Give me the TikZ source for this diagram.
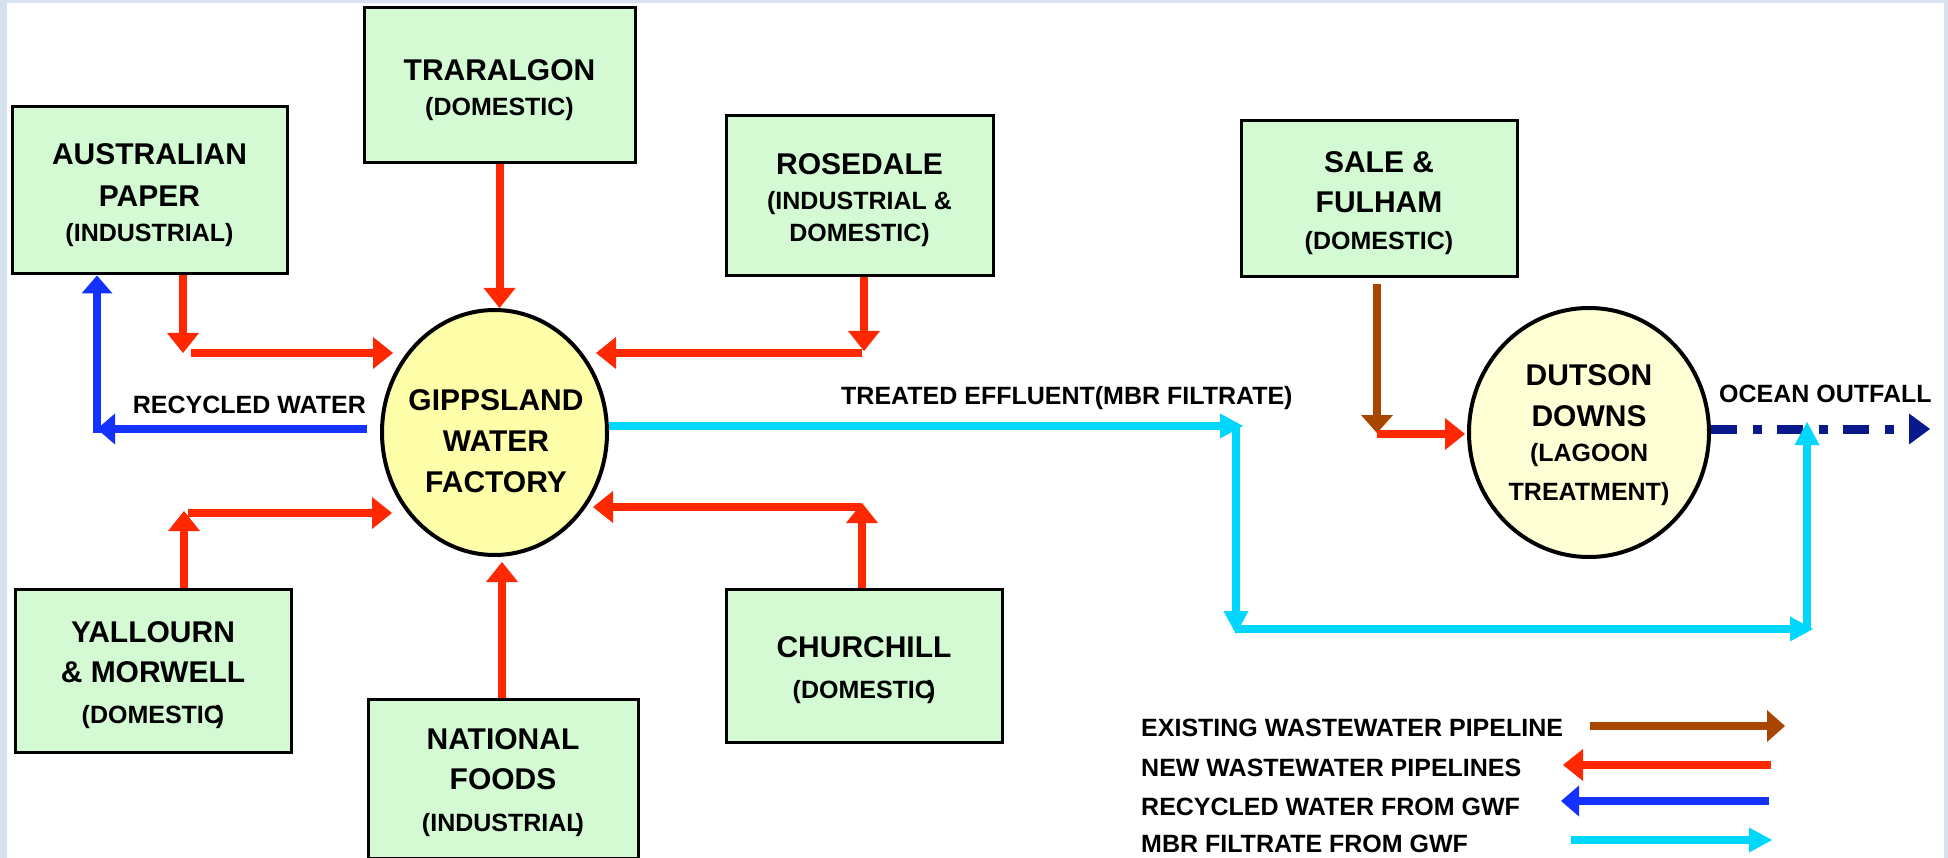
\documentclass[tikz,border=0pt]{standalone}
\usepackage{fontspec}
\setmainfont{Liberation Sans}
\usetikzlibrary{arrows.meta,shapes.geometric}
\definecolor{framecol}{RGB}{214,226,238}
\definecolor{boxgreen}{RGB}{211,250,211}
\definecolor{gwfyellow}{RGB}{255,255,170}
\definecolor{duyellow}{RGB}{255,255,213}
\definecolor{pipered}{RGB}{255,40,0}
\definecolor{pipeblue}{RGB}{20,50,255}
\definecolor{pipecyan}{RGB}{0,215,255}
\definecolor{pipebrown}{RGB}{168,70,0}
\definecolor{pipenavy}{RGB}{8,25,140}
\newcommand{\mainfs}{\fontsize{30pt}{40pt}\selectfont\bfseries}
\newcommand{\subfs}{\fontsize{25pt}{40pt}\selectfont}
\newcommand{\labfs}{\fontsize{25pt}{30pt}\selectfont\bfseries}
\newcommand{\bxstrut}{\rule{0pt}{30pt}}
\begin{document}
\begin{tikzpicture}[x=1pt,y=-1pt,
  box/.style={draw=black, line width=3pt, fill=boxgreen, rectangle, inner sep=0pt, align=center, font=\mainfs},
  plant/.style={draw=black, line width=4pt, ellipse, inner sep=0pt},
  ctext/.style={inner sep=0pt, align=center, font=\mainfs},
  lab/.style={inner sep=0pt, font=\labfs},
  pipe/.style={line width=8pt},
  redarr/.style={pipe, draw=pipered, -{Triangle[length=20pt,width=32pt,line width=0pt]}},
  bluearr/.style={pipe, draw=pipeblue, -{Triangle[length=18pt,width=31pt,line width=0pt]}},
  cyanarr/.style={pipe, draw=pipecyan, -{Triangle[length=23pt,width=25pt,line width=0pt]}},
  brownarr/.style={line width=7.5pt, draw=pipebrown, -{Triangle[length=18pt,width=32pt,line width=0pt]}},
  navyarr/.style={line width=9pt, draw=pipenavy, dash pattern=on 26pt off 16pt on 9pt off 15pt, -{Triangle[length=21pt,width=31pt,line width=0pt]}}
]
\useasboundingbox (0,0) rectangle (1948,858);
\fill[framecol] (0,0) rectangle (1948,858);
\fill[white] (7,3) rectangle (1944,858);

% source boxes
\node[box, minimum width=271pt, minimum height=155pt] (tr) at (499.5,85.5)
  {\bxstrut TRARALGON\\[-5pt]\subfs(DOMESTIC)};
\node[box, minimum width=275pt, minimum height=167pt] (ap) at (149.5,190.5)
  {\bxstrut AUSTRALIAN\\[2pt]PAPER\\[-5pt]\subfs(INDUSTRIAL)};
\node[box, minimum width=267pt, minimum height=160pt] (ro) at (859.5,196)
  {\bxstrut ROSEDALE\\[-5pt]\subfs(INDUSTRIAL \&\\[-8pt]\subfs DOMESTIC)};
\node[box, minimum width=276pt, minimum height=156pt] (sa) at (1379,199)
  {\bxstrut SALE \&\\FULHAM\\[-3pt]\subfs(DOMESTIC)};
\node[box, minimum width=276pt, minimum height=163pt] (ya) at (153,670.5)
  {\bxstrut YALLOURN\\\& MORWELL\\[1pt]\subfs(DOMESTIC\kern-6pt)};
\node[box, minimum width=270pt, minimum height=159pt] (nf) at (503,778.5)
  {\bxstrut NATIONAL\\FOODS\\[2pt]\subfs(INDUSTRIAL\kern-6pt)};
\node[box, minimum width=276pt, minimum height=153pt] (ch) at (864,665.5)
  {\bxstrut CHURCHILL\\[1pt]\subfs(DOMESTIC\kern-6pt)};

% treatment plants
\node[plant, fill=gwfyellow, minimum width=225pt, minimum height=245pt] (gwf) at (494.5,432.5) {};
\node[ctext] (gwft) at (496,437) {\bxstrut GIPPSLAND\\[1pt]WATER\\[1pt]FACTORY};
\node[plant, fill=duyellow, minimum width=240pt, minimum height=249pt] (du) at (1589,432.5) {};
\node[ctext] (dut) at (1589,431) {\bxstrut DUTSON\\[1pt]DOWNS\\[-5pt]\subfs(LAGOON\\[-1pt]\subfs TREATMENT)};

% labels
\node[lab, anchor=base east] (rwl) at (366,413) {RECYCLED WATER};
\node[lab, anchor=base west] (tel) at (841,404) {TREATED EFFLUENT(MBR FILTRATE)};
\node[lab, anchor=base west] (ool) at (1719,402) {OCEAN OUTFALL};

% corner and end points
\coordinate (apc) at (183,353);
\coordinate (apt) at (393,353);
\coordinate (rwa) at (367,429);
\coordinate (rwc) at (97,429);
\coordinate (yac) at (184,513);
\coordinate (yat) at (392,513);
\coordinate (nft) at (502,562);
\coordinate (roc) at (864,353);
\coordinate (rot) at (596,353);
\coordinate (chc) at (862,507);
\coordinate (cht) at (593,507);
\coordinate (cy1) at (1236,426);
\coordinate (cy2) at (1236,629);
\coordinate (cy3) at (1807,629);
\coordinate (cy4) at (1807,422);
\coordinate (sac) at (1377,434);
\coordinate (sat) at (1465,434);
\coordinate (oot) at (1930,429);

% new wastewater pipelines into GWF
\draw[redarr] (tr.south) -- (tr.south |- gwf.north);
\draw[redarr] (ap.south -| apc) -- (apc);
\draw[redarr] ([xshift=8pt]apc) -- (apt);
\draw[redarr] (ya.north -| yac) -- ([yshift=2pt]yac);
\draw[redarr] ([xshift=4pt]yac) -- (yat);
\draw[redarr] (nf.north -| nft) -- (nft);
\draw[redarr] (ro.south -| roc) -- ([yshift=2pt]roc);
\draw[redarr] ([xshift=-2pt]roc) -- (rot);
\draw[redarr] (ch.north -| chc) -- ([yshift=4pt]chc);
\draw[redarr] ([xshift=-1pt]chc) -- (cht);

% recycled water
\draw[bluearr] (rwa) -- (rwc);
\draw[bluearr] ([yshift=-4pt]rwc) -- (rwc |- ap.south);

% Sale & Fulham
\draw[brownarr] ([yshift=-6pt]sa.south -| sac) -- ([yshift=1pt]sac);
\draw[redarr] (sac) -- (sat);

% ocean outfall
\draw[navyarr] (du.east |- oot) -- (oot);

% MBR filtrate
\draw[cyanarr] (gwf.east |- cy1) -- ([xshift=7pt]cy1);
\draw[cyanarr] (cy1) -- ([yshift=-5pt]cy2);
\draw[cyanarr] (cy2) -- ([xshift=6pt]cy3);
\draw[cyanarr] (cy3) -- (cy4);

% legend
\coordinate (lg1a) at (1590,726); \coordinate (lg1b) at (1785,726);
\coordinate (lg2a) at (1771,765); \coordinate (lg2b) at (1563,765);
\coordinate (lg3a) at (1769,801); \coordinate (lg3b) at (1561,801);
\coordinate (lg4a) at (1571,840); \coordinate (lg4b) at (1772,840);
\node[lab, anchor=base west] (lgt1) at (1141,736) {EXISTING WASTEWATER PIPELINE};
\node[lab, anchor=base west] (lgt2) at (1141,776) {NEW WASTEWATER PIPELINES};
\node[lab, anchor=base west] (lgt3) at (1141,815) {RECYCLED WATER FROM GWF};
\node[lab, anchor=base west] (lgt4) at (1141,852) {MBR FILTRATE FROM GWF};
\draw[brownarr, line width=8pt] (lg1a) -- (lg1b);
\draw[redarr] (lg2a) -- (lg2b);
\draw[bluearr] (lg3a) -- (lg3b);
\draw[cyanarr] (lg4a) -- (lg4b);
\end{tikzpicture}
\end{document}
